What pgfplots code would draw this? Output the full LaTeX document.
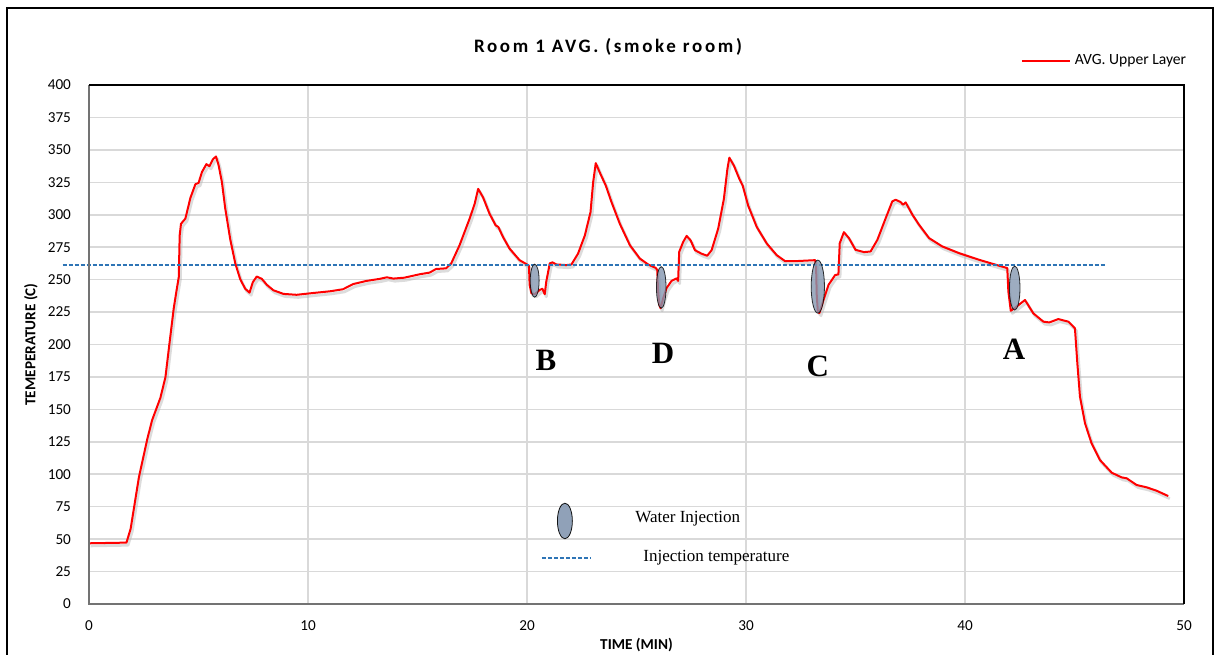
\documentclass[border=0pt]{standalone}
\usepackage{pgfplots}
\pgfplotsset{compat=1.18}
\usepackage{pgfplotstable}
\usepackage{fontspec}
\setmainfont{Carlito}
\newfontfamily\serifA{Liberation Serif}
\newfontfamily\titlefont[LetterSpace=14]{Carlito}

\definecolor{gridgray}{RGB}{217,217,217}
\definecolor{injblue}{RGB}{46,117,182}
\definecolor{waterfill}{RGB}{132,151,176}

% temperature, room 1 upper layer (min, deg C)
\pgfplotstableread{
t y
0 46.8
1.71 47.3
1.9 57.9
2.28 97.8
2.66 127
2.88 141.6
3.26 158.9
3.49 174.8
3.64 196
3.87 228
4.02 244
4.1 252
4.14 284
4.2 293
4.4 297
4.63 313
4.86 323.6
5.0 324.4
5.16 333
5.36 339
5.5 337.4
5.66 342.8
5.8 344.9
5.92 338
6.07 325
6.22 305
6.45 281
6.68 262.5
6.9 250.6
7.13 243
7.33 240
7.48 248
7.66 252.4
7.89 250.6
8.12 246
8.42 241.8
8.88 239
9.48 238.3
10.24 239.7
11.0 241
11.6 242.6
12.07 246.6
12.67 249
13.28 250.6
13.6 251.8
13.9 250.8
14.4 251.5
15.09 254.1
15.55 255.4
15.85 258.2
16.31 258.7
16.54 262.5
16.92 276.5
17.38 297
17.61 308.4
17.77 320
17.99 313.5
18.29 300.8
18.57 291.8
18.69 290.6
18.9 283
19.2 274
19.66 265
20.0 261.7
20.09 260.7
20.12 246
20.2 239.5
20.35 238.8
20.58 242
20.7 243
20.81 238.8
20.88 248.5
21.04 262.5
21.16 263.3
21.34 261.7
21.8 261.2
22.03 261.7
22.33 270
22.64 284
22.9 302
23.02 325
23.14 339.8
23.32 332.7
23.6 322.4
23.86 309.7
24.24 293
24.7 276.5
25.15 266.3
25.53 261.7
25.88 259
25.95 257.4
25.98 243
26.04 230.6
26.1 228
26.22 235.7
26.37 243.4
26.6 249
26.83 251
26.9 249
26.95 271.4
27.13 279
27.29 283.7
27.47 280.3
27.67 272.7
27.97 270
28.23 268.4
28.43 272.7
28.73 289.3
28.99 312.2
29.15 335.2
29.24 344
29.45 337.8
29.7 327.5
29.85 322.4
30.1 307
30.49 290.6
30.95 277.8
31.4 268.9
31.78 264.3
32.32 264.3
33.16 265
33.2 260
33.23 238.3
33.28 225.5
33.35 224.2
33.54 234.4
33.77 246
34.07 253.5
34.22 254
34.28 278
34.47 286.6
34.7 282
35.0 273
35.39 271.2
35.69 271.7
36.0 280.7
36.38 297.4
36.68 310.3
36.83 311.6
37.06 309.8
37.17 307.7
37.29 309.5
37.6 300
37.9 292.3
38.36 282
38.96 275.6
39.73 270.4
40.64 265.3
41.4 261.5
41.93 258.9
41.98 240.9
42.09 226
42.31 228.6
42.74 234.3
43.12 224
43.58 217.6
43.85 217
44.26 219.6
44.72 217.6
45.02 212.5
45.13 185.5
45.25 159.8
45.48 139.3
45.78 123.8
46.16 111
46.7 101.2
47.15 97.6
47.38 96.9
47.84 91.7
48.3 89.9
48.75 87.3
49.28 83.2
}\curve

\begin{document}
\begin{tikzpicture}
\useasboundingbox (-44.5pt,-25pt) rectangle (563pt,302pt);
\draw[line width=1pt] (-41pt,-30pt) -- (-41pt,298pt) -- (562pt,298pt) -- (562pt,-30pt);
\begin{axis}[
    at={(0,0)}, anchor=south west,
    scale only axis,
    width=547.5pt,
    height=259.5pt,
    xmin=0, xmax=50,
    ymin=0, ymax=400,
    xtick={0,10,...,50},
    ytick={0,25,...,400},
    major tick length=0pt,
    grid=major,
    major grid style={draw=gridgray, line width=0.8pt},
    axis line style={draw=none},
    clip=false,
    /pgf/number format/assume math mode=true,
    tick label style={font=\fontsize{7.6}{9}\selectfont},
    xticklabel style={yshift=-5pt},
    yticklabel style={xshift=-5.5pt},
    every axis title shift=0pt,
    title={\titlefont\bfseries\fontsize{9.5}{11}\selectfont Room 1 AVG. (smoke room)},
    title style={at={(axis description cs:0.474,1.073)}, anchor=center},
    xlabel={\bfseries TIME (MIN)},
    ylabel={\bfseries TEMEPERATURE (C)},
    label style={font=\fontsize{7.6}{9}\selectfont},
    xlabel style={at={(axis description cs:0.5,-0.079)}, anchor=center},
    ylabel style={at={(axis description cs:-0.053,0.5)}, anchor=center},
    legend style={at={(axis description cs:0.851,1.047)}, anchor=west,
        draw=none, fill=none, inner sep=0pt, outer sep=0pt,
        font=\fontsize{7.8}{9}\selectfont},
    legend cell align=left,
    legend image code/.code={\draw[#1] (0pt,0pt) -- (24pt,0pt);},
]
% shadow of the curve
\addplot[black!30, opacity=0.45, line width=1.4pt, line join=round, forget plot,
    transform canvas={xshift=0.8pt, yshift=-1.3pt}] table[x=t, y=y] {\curve};
\addplot[red, line width=1pt, line join=round] table[x=t, y=y] {\curve};
\addlegendentry{AVG. Upper Layer}

% injection temperature
\addplot[injblue, line width=0.6pt, dash pattern=on 2pt off 1pt, forget plot]
    coordinates {(-1.2,261.3) (46.4,261.3)};

% water injection marks
\addplot[only marks, mark=*, mark size=8.25pt, forget plot,
    mark options={fill=waterfill, draw=none, opacity=0.8, xscale=0.27}]
    coordinates {(20.35,249.2)};
\addplot[only marks, mark=*, mark size=10.4pt, forget plot,
    mark options={fill=waterfill, draw=none, opacity=0.8, xscale=0.23}]
    coordinates {(26.13,244)};
\addplot[only marks, mark=*, mark size=13.25pt, forget plot,
    mark options={fill=waterfill, draw=none, opacity=0.8, xscale=0.25}]
    coordinates {(33.28,244.6)};
\addplot[only marks, mark=*, mark size=11pt, forget plot,
    mark options={fill=waterfill, draw=none, opacity=0.8, xscale=0.24}]
    coordinates {(42.27,243.5)};

% inner legend
\addplot[only marks, mark=*, mark size=8.9pt, forget plot,
    mark options={fill=waterfill, draw=none, opacity=0.9, xscale=0.42}]
    coordinates {(21.73,64)};
\addplot[injblue, line width=0.6pt, dash pattern=on 2pt off 1pt, forget plot]
    coordinates {(20.68,35.5) (22.88,35.5)};
\node[anchor=west, inner sep=0pt, font=\serifA\fontsize{8.5}{10}\selectfont]
    at (axis cs:24.93,65.5) {Water Injection};
\node[anchor=west, inner sep=0pt, font=\serifA\fontsize{8.5}{10}\selectfont]
    at (axis cs:25.3,35.5) {Injection temperature};

% letters
\node[font=\serifA\bfseries\fontsize{15.5}{16}\selectfont] at (axis cs:20.87,188) {B};
\node[font=\serifA\bfseries\fontsize{15.5}{16}\selectfont] at (axis cs:26.21,193.2) {D};
\node[font=\serifA\bfseries\fontsize{15.5}{16}\selectfont] at (axis cs:33.28,183.2) {C};
\node[font=\serifA\bfseries\fontsize{15.5}{16}\selectfont] at (axis cs:42.24,196) {A};

% axis box
\draw[black!55, line width=1pt] (rel axis cs:0,1) -- (rel axis cs:0,0) -- (rel axis cs:1,0);
\draw[black, line width=1pt] (rel axis cs:0,1) -- (rel axis cs:1,1) -- (rel axis cs:1,0);
\end{axis}
\end{tikzpicture}
\end{document}
